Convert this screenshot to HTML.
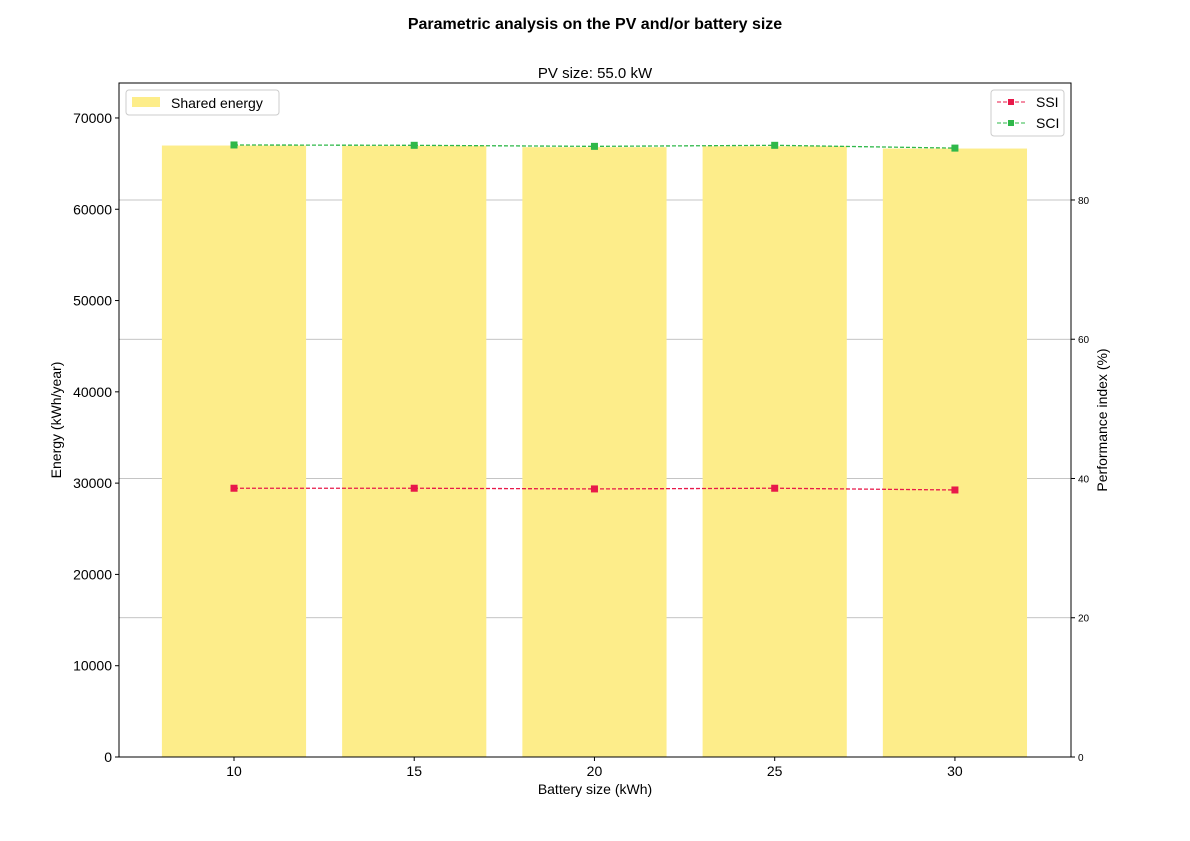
<!DOCTYPE html>
<html><head><meta charset="utf-8"><style>body{margin:0;background:#fff}svg{display:block;font-family:"Liberation Sans",sans-serif}</style></head>
<body>
<svg id="chart" width="1190" height="841" viewBox="0 0 1190 841" xmlns="http://www.w3.org/2000/svg">
<text x="595" y="29" text-anchor="middle" font-size="16" font-weight="bold">Parametric analysis on the PV and/or battery size</text>
<text x="595" y="78" text-anchor="middle" font-size="15">PV size: 55.0 kW</text>
<g id="grid"></g><g id="bars"></g><g id="lines"></g>
<rect x="119" y="83" width="952" height="674" fill="none" stroke="#000" stroke-width="1"/>
<g id="axes" font-size="13"></g>
<text x="595" y="794" text-anchor="middle" font-size="14">Battery size (kWh)</text>
<text transform="translate(61,420) rotate(-90)" text-anchor="middle" font-size="14">Energy (kWh/year)</text>
<text transform="translate(1107,420) rotate(-90)" text-anchor="middle" font-size="14">Performance index (%)</text>
<g>
<rect x="126" y="90" width="153" height="25" fill="#fff" stroke="#ccc" rx="3"/>
<rect x="132" y="97" width="28" height="10" fill="#fded8a"/>
<text x="171" y="108" font-size="14">Shared energy</text>
</g>
<g>
<rect x="991" y="90" width="73" height="46" fill="#fff" stroke="#ccc" rx="3"/>
<line x1="997" y1="102" x2="1025" y2="102" stroke="#e8194a" stroke-dasharray="4,2"/><rect x="1008" y="99" width="6" height="6" fill="#e8194a"/>
<text x="1036" y="107" font-size="14">SSI</text>
<line x1="997" y1="123" x2="1025" y2="123" stroke="#2fb84a" stroke-dasharray="4,2"/><rect x="1008" y="120" width="6" height="6" fill="#2fb84a"/>
<text x="1036" y="128" font-size="14">SCI</text>
</g>
</svg>
<script>
const categories=[10,15,20,25,30];
const sharedEnergy=[66980,66950,66800,66900,66650];
const ssi=[38.6,38.6,38.5,38.6,38.35];
const sci=[87.9,87.85,87.7,87.85,87.45];
const leftTicks=[0,10000,20000,30000,40000,50000,60000,70000];
const rightTicks=[0,20,40,60,80];
const NS="http://www.w3.org/2000/svg";
const X0=119,X1=1071,Y0=757,Y1=83;
const xMin=6.81,xMax=33.22,lMax=73830,rMax=96.8;
const xs=v=>X0+(v-xMin)/(xMax-xMin)*(X1-X0);
const yl=v=>Y0-v/lMax*(Y0-Y1);
const yr=v=>Y0-v/rMax*(Y0-Y1);
function mk(t,a,p){const e=document.createElementNS(NS,t);for(const k in a)e.setAttribute(k,a[k]);p.appendChild(e);return e;}
const grid=document.getElementById('grid'),bars=document.getElementById('bars'),lines=document.getElementById('lines'),axes=document.getElementById('axes');
rightTicks.forEach(t=>{if(t===0)return;const l=mk('line',{x1:X0,x2:X1,y1:yr(t),y2:yr(t),stroke:'#b0b0b0','stroke-width':0.8},grid);

});
categories.forEach((c,i)=>{const r=mk('rect',{x:xs(c-2),y:yl(sharedEnergy[i]),width:xs(c+2)-xs(c-2),height:Y0-yl(sharedEnergy[i]),fill:'#fded8a'},bars);

});
function series(vals,color,name){const pts=categories.map((c,i)=>xs(c)+','+yr(vals[i])).join(' ');
const pl=mk('polyline',{points:pts,fill:'none',stroke:color,'stroke-width':1.3,'stroke-dasharray':'4,2'},lines);


categories.forEach((c,i)=>{const m=mk('rect',{x:xs(c)-3.5,y:yr(vals[i])-3.5,width:7,height:7,fill:color},lines);

});}
series(ssi,'#e8194a','ssi');series(sci,'#2fb84a','sci');
leftTicks.forEach(t=>{mk('line',{x1:X0-4,x2:X0,y1:yl(t),y2:yl(t),stroke:'#000'},axes);
const tx=mk('text',{x:X0-7,y:yl(t)+5,'text-anchor':'end','font-size':14},axes);tx.textContent=t;

});
rightTicks.forEach(t=>{mk('line',{x1:X1,x2:X1+4,y1:yr(t),y2:yr(t),stroke:'#000'},axes);
const tx=mk('text',{x:X1+7,y:yr(t)+4,'font-size':10},axes);tx.textContent=t;

});
categories.forEach(c=>{mk('line',{x1:xs(c),x2:xs(c),y1:Y0,y2:Y0+4,stroke:'#000'},axes);
const tx=mk('text',{x:xs(c),y:Y0+19,'text-anchor':'middle','font-size':14},axes);tx.textContent=c;

});
</script>
</body></html>
